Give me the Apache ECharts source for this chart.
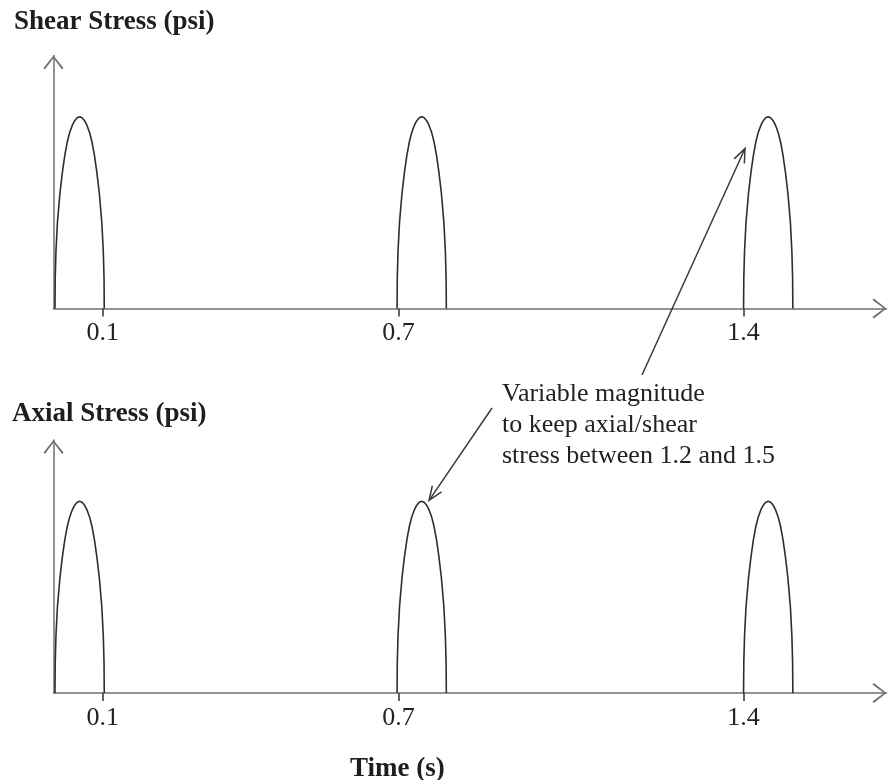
<!DOCTYPE html>
<html>
<head>
<meta charset="utf-8">
<script src="https://cdn.jsdelivr.net/npm/echarts@6/dist/echarts.min.js"></script>
<style>
  html, body { margin: 0; padding: 0; background: #fff; }
  #chart { width: 889px; height: 780px; }
</style>
</head>
<body>
<div id="chart"></div>
<script>
// pulse start times (s), same for both panels
const pulseStarts = [0.003, 0.697, 1.4]
// one pulse: time offset from start (s) and height (peak = 1)
const shapeOffsets = [0, 0.0005, 0.002, 0.005, 0.01, 0.015, 0.02, 0.025, 0.03, 0.035, 0.04, 0.045, 0.05,
  0.055, 0.06, 0.065, 0.07, 0.075, 0.08, 0.085, 0.09, 0.095, 0.098, 0.0995, 0.1]
const shearHeights = [0, 0.16, 0.3, 0.45, 0.6, 0.71, 0.8, 0.87, 0.92, 0.955, 0.98, 0.995, 1.0,
  0.995, 0.98, 0.955, 0.92, 0.87, 0.8, 0.71, 0.6, 0.45, 0.3, 0.16, 0]
const axialHeights = [0, 0.16, 0.3, 0.45, 0.6, 0.71, 0.8, 0.87, 0.92, 0.955, 0.98, 0.995, 1.0,
  0.995, 0.98, 0.955, 0.92, 0.87, 0.8, 0.71, 0.6, 0.45, 0.3, 0.16, 0]
const tickValues = [0.1, 0.7, 1.4]
const tickLabels = ['0.1', '0.7', '1.4']
const panelTitles = ['Shear Stress (psi)', 'Axial Stress (psi)']
const xTitle = 'Time (s)'
const noteLines = ['Variable magnitude', 'to keep axial/shear', 'stress between 1.2 and 1.5']
// where the two annotation arrows point: [panel, time, height]
const noteTips = [[0, 1.403, 0.835], [1, 0.762, 1.005]]

const serif = "'Liberation Serif', 'Times New Roman', serif"
const axisColor = '#707070'
const inkColor = '#2e2e2e'
const arrowPath = 'path://M10,0 L20,12.6 L18.6,14 L10,2.6 L1.4,14 L0,12.6 Z'

const chart = echarts.init(document.getElementById('chart'))

const panelHeights = [shearHeights, axialHeights]
const series = []
panelHeights.forEach((heights, p) => {
  pulseStarts.forEach(s => {
    series.push({
      type: 'line',
      xAxisIndex: p,
      yAxisIndex: p,
      data: shapeOffsets.map((o, i) => [s + o, heights[i]]),
      showSymbol: false,
      smooth: false,
      clip: false,
      lineStyle: { color: inkColor, width: 1.6 },
      z: 5
    })
  })
})

const makeX = i => ({
  type: 'value',
  gridIndex: i,
  min: 0,
  max: 1.69,
  axisLine: {
    show: true,
    onZero: false,
    symbol: ['none', arrowPath],
    symbolSize: [20, 14],
    symbolOffset: [0, -7],
    lineStyle: { color: axisColor, width: 1.5 }
  },
  axisTick: {
    show: true,
    customValues: tickValues,
    length: 8,
    lineStyle: { color: '#333', width: 1.5 }
  },
  axisLabel: {
    customValues: tickValues,
    formatter: v => tickLabels[tickValues.indexOf(v)] || '',
    margin: 12,
    fontFamily: serif,
    fontSize: 26,
    color: '#222'
  },
  splitLine: { show: false }
})

const makeY = i => ({
  type: 'value',
  gridIndex: i,
  min: 0,
  max: 1.32,
  axisLine: {
    show: true,
    onZero: false,
    symbol: ['none', arrowPath],
    symbolSize: [20, 14],
    symbolOffset: [0, -7],
    lineStyle: { color: axisColor, width: 1.5 }
  },
  axisTick: { show: false },
  axisLabel: { show: false },
  splitLine: { show: false }
})

const titleStyle = { fontFamily: serif, fontSize: 27, fontWeight: 'bold', color: '#1e1e1e' }

chart.setOption({
  animation: false,
  backgroundColor: '#fff',
  title: [
    { text: panelTitles[0], left: 14, top: 9, padding: 0, textStyle: titleStyle },
    { text: panelTitles[1], left: 12, top: 401, padding: 0, textStyle: titleStyle },
    { text: xTitle, left: 350, top: 756, padding: 0, textStyle: titleStyle }
  ],
  grid: [
    { left: 53.5, top: 55.5, width: 833, height: 253 },
    { left: 53.5, top: 440, width: 833, height: 253 }
  ],
  xAxis: [makeX(0), makeX(1)],
  yAxis: [makeY(0), makeY(1)],
  series: series
})

// annotation arrows: tail near the text, tip anchored to the data
const tails = [[642, 375], [492, 408]]
function arrowHead(from, to, len, ang) {
  const a = Math.atan2(from[1] - to[1], from[0] - to[0])
  return [
    [to[0] + len * Math.cos(a + ang), to[1] + len * Math.sin(a + ang)],
    to,
    [to[0] + len * Math.cos(a - ang), to[1] + len * Math.sin(a - ang)]
  ]
}
const graphic = []
noteTips.forEach((t, k) => {
  const tip = chart.convertToPixel({ gridIndex: t[0] }, [t[1], t[2]])
  const stroke = { stroke: '#3a3a3a', lineWidth: 1.5, fill: null }
  graphic.push({
    type: 'polyline',
    shape: { points: [tails[k], tip] },
    style: stroke,
    z: 10
  })
  graphic.push({
    type: 'polyline',
    shape: { points: arrowHead(tails[k], tip, 15, 0.38) },
    style: stroke,
    z: 10
  })
})
graphic.push({
  type: 'text',
  left: 502,
  top: 379,
  style: {
    text: noteLines.join('\n'),
    font: '26px ' + serif,
    lineHeight: 31,
    fill: '#222'
  },
  z: 10
})
chart.setOption({ graphic: graphic })
</script>
</body>
</html>
